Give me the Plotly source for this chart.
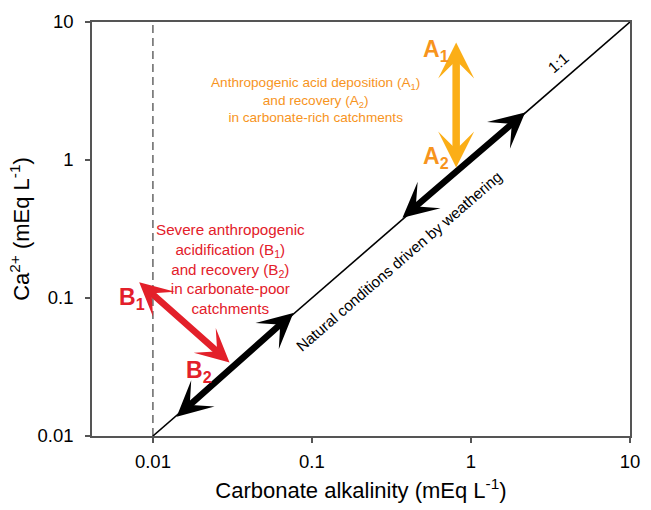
import math
import plotly.graph_objects as go

# Axis tick values / labels
tick_vals = [0.01, 0.1, 1, 10]
tick_text = ["0.01", "0.1", "1", "10"]

# 1:1 reference line
line_x = [0.01, 10]
line_y = [0.01, 10]

# dashed vertical line at alkalinity 0.01
dash_x = [0.01, 0.01]
dash_y = [0.01, 10]

# Arrows: (start x, start y) -> (end x, end y), both ends headed
nat_low_start = (0.0138, 0.0135)
nat_low_end = (0.0764, 0.078)
nat_high_start = (0.363, 0.373)
nat_high_end = (2.19, 2.21)
acid_a_start = (0.807, 0.86)   # A2
acid_a_end = (0.807, 7.1)      # A1
acid_b_start = (0.031, 0.0334) # B2
acid_b_end = (0.0082, 0.13)    # B1

FONT = "Liberation Sans, Arial, sans-serif"
ORANGE_ARROW = "#FBAE17"
ORANGE_TEXT = "#F7941D"
RED = "#E3202A"

fig = go.Figure()
fig.add_trace(go.Scatter(x=dash_x, y=dash_y, mode="lines",
                         line=dict(color="#666666", width=1.5, dash="8px,5px"),
                         hoverinfo="skip", showlegend=False))
fig.add_trace(go.Scatter(x=line_x, y=line_y, mode="lines",
                         line=dict(color="black", width=1.6),
                         hoverinfo="skip", showlegend=False))

L = math.log10
annotations = []

def arrow(start, end, color, width, size):
    annotations.append(dict(
        x=L(end[0]), y=L(end[1]), ax=L(start[0]), ay=L(start[1]),
        xref="x", yref="y", axref="x", ayref="y",
        text="", showarrow=True, arrowside="end+start",
        arrowhead=3, startarrowhead=3,
        arrowsize=size, startarrowsize=size,
        arrowwidth=width, arrowcolor=color))

arrow(nat_low_start, nat_low_end, "black", 6.5, 0.9)
arrow(nat_high_start, nat_high_end, "black", 6.5, 0.9)
arrow(acid_a_start, acid_a_end, ORANGE_ARROW, 7.5, 0.8)
arrow(acid_b_start, acid_b_end, RED, 6.5, 0.85)

def label(text, lx, ly, color, size, angle=0, bold=False):
    if bold:
        text = "<b>" + text + "</b>"
    annotations.append(dict(
        x=lx, y=ly, xref="x", yref="y", text=text, showarrow=False,
        textangle=angle, font=dict(family=FONT, size=size, color=color),
        align="center", xanchor="center", yanchor="middle"))

ang = -math.degrees(math.atan(140 / 162))
label("1:1", 0.55, 0.71, "black", 15.5, ang)
label("Natural conditions driven by weathering", -0.455, -0.735, "black", 15.2, ang)
label("Anthropogenic acid deposition (A<sub>1</sub>)<br>and recovery (A<sub>2</sub>)<br>in carbonate-rich catchments",
      -0.98, 0.436, ORANGE_TEXT, 13.6)
label("Severe anthropogenic<br>acidification (B<sub>1</sub>)<br>and recovery (B<sub>2</sub>)<br>in carbonate-poor<br>catchments",
      -1.512, -0.793, RED, 15.2)
label("A<sub>1</sub>", -0.222, 0.79, ORANGE_TEXT, 23, bold=True)
label("A<sub>2</sub>", -0.222, 0.021, ORANGE_TEXT, 23, bold=True)
label("B<sub>1</sub>", -2.13, -1.0, RED, 23, bold=True)
label("B<sub>2</sub>", -1.71, -1.536, RED, 23, bold=True)

axis_common = dict(type="log", showgrid=False, zeroline=False, showline=True,
                   linecolor="#555555", linewidth=1.5, mirror=True,
                   ticks="outside", ticklen=5, tickwidth=1.5, tickcolor="#555555",
                   tickvals=tick_vals, ticktext=tick_text,
                   tickfont=dict(family=FONT, size=18.5, color="black"))

fig.update_layout(
    width=651, height=510,
    margin=dict(l=92, r=11, t=20, b=70),
    paper_bgcolor="white", plot_bgcolor="white",
    xaxis=dict(range=[-2.383, 1], ticklabelstandoff=3,
               title=dict(text="Carbonate alkalinity (mEq L<sup>-1</sup>)",
                          font=dict(family=FONT, size=22, color="black"), standoff=12),
               **axis_common),
    yaxis=dict(range=[-2, 1], ticklabelstandoff=8,
               title=dict(text="Ca<sup>2+</sup> (mEq L<sup>-1</sup>)",
                          font=dict(family=FONT, size=22, color="black"), standoff=2),
               **axis_common),
    annotations=annotations,
    showlegend=False,
)

fig.write_html("out.html", config={"displayModeBar": False},
               post_script="document.body.style.margin='0';document.body.style.overflow='hidden';")
